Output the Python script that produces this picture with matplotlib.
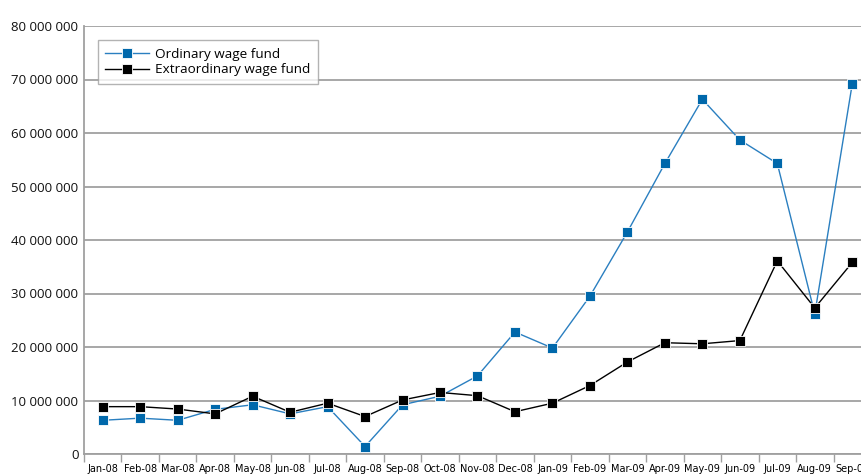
import numpy as np
import matplotlib.pyplot as plt
from matplotlib.ticker import FuncFormatter, FixedLocator

months = ['Jan-08', 'Feb-08', 'Mar-08', 'Apr-08', 'May-08', 'Jun-08', 'Jul-08',
          'Aug-08', 'Sep-08', 'Oct-08', 'Nov-08', 'Dec-08', 'Jan-09', 'Feb-09',
          'Mar-09', 'Apr-09', 'May-09', 'Jun-09', 'Jul-09', 'Aug-09', 'Sep-09']

ordinary = [6.3, 6.7, 6.3, 8.35, 9.2, 7.5, 8.85, 1.4, 9.2, 10.8, 14.6, 22.8,
            19.8, 29.5, 41.5, 54.3, 66.3, 58.7, 54.3, 26.2, 69.2]
extraordinary = [8.85, 8.85, 8.4, 7.5, 10.8, 7.8, 9.5, 7.0, 10.1, 11.5, 10.9, 7.9,
                 9.5, 12.8, 17.2, 20.8, 20.6, 21.2, 36.1, 27.3, 35.8]

ordinary = np.array(ordinary) * 1e6
extraordinary = np.array(extraordinary) * 1e6

BLUE_LINE = '#2a7fc0'
BLUE_MARK = '#0068ab'
GRID = '#a0a0a0'

plt.rcParams['font.family'] = ['Open Sans', 'DejaVu Sans']

fig = plt.figure(figsize=(8.62, 4.75), dpi=100)
ax = fig.add_axes([84 / 862, 21 / 475, 787 / 862, 428 / 475])

x = np.arange(len(months))
ax.plot(x, ordinary, '-', color=BLUE_LINE, linewidth=1.0, marker='s',
        markersize=7, markerfacecolor=BLUE_MARK, markeredgecolor='white',
        markeredgewidth=0.6, label='Ordinary wage fund', zorder=3)
ax.plot(x, extraordinary, '-', color='black', linewidth=1.0, marker='s',
        markersize=7, markerfacecolor='black', markeredgecolor='white',
        markeredgewidth=0.6, label='Extraordinary wage fund', zorder=4)

ax.set_xlim(-0.5, len(months) - 0.5)
ax.set_ylim(0, 80e6)
ax.set_yticks(np.arange(0, 80e6 + 1, 10e6))
ax.yaxis.set_major_formatter(FuncFormatter(lambda v, p: '{:,.0f}'.format(v).replace(',', ' ')))
ax.grid(axis='y', color=GRID, linewidth=1.3)
ax.set_axisbelow(True)

ax.set_xticks(x)
ax.set_xticklabels(months, fontsize=7.0,
                   family=['Liberation Sans Narrow', 'DejaVu Sans'])
ax.xaxis.set_minor_locator(FixedLocator(np.arange(-0.5, len(months), 1.0)))
ax.tick_params(axis='x', which='major', length=0, pad=7)
ax.tick_params(axis='x', which='minor', length=6, width=1.0, color=GRID)
ax.tick_params(axis='y', length=0, labelsize=9.5, pad=4, labelcolor='#111111')

for s in ['top', 'right']:
    ax.spines[s].set_visible(False)
for s in ['left', 'bottom']:
    ax.spines[s].set_color(GRID)
    ax.spines[s].set_linewidth(1.3)

leg = ax.legend(loc='upper left', bbox_to_anchor=(0.0178, 0.967), borderaxespad=0,
                fontsize=9.7, frameon=True, fancybox=False, handlelength=3.2,
                borderpad=0.55, labelspacing=0.2, handletextpad=0.5)
leg.get_frame().set_edgecolor(GRID)
leg.get_frame().set_linewidth(1.0)

fig.savefig('out.png', dpi=100)
